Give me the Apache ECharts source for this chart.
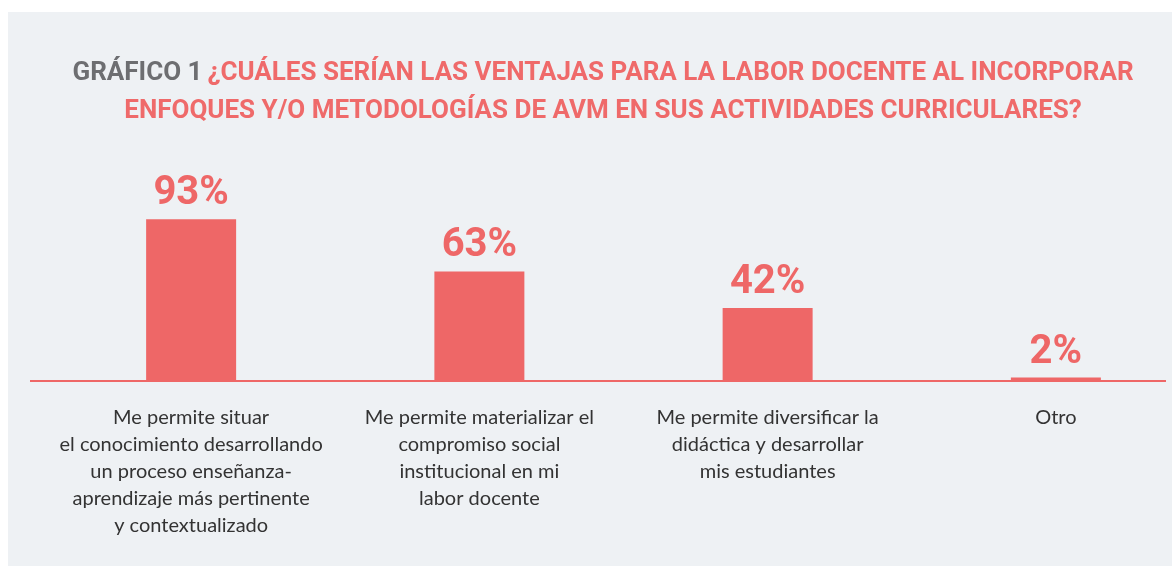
<!DOCTYPE html>
<html>
<head>
<meta charset="utf-8">
<script src="https://cdn.jsdelivr.net/npm/echarts@6/dist/echarts.min.js"></script>
<style>
html,body{margin:0;padding:0;background:#ffffff;}
#chart{width:1172px;height:566px;}
</style>
</head>
<body>
<div id="chart"></div>
<script>
const categories = [
  "Me permite situar\nel conocimiento desarrollando\nun proceso enseñanza-\naprendizaje más pertinente\ny contextualizado",
  "Me permite materializar el\ncompromiso social\ninstitucional en mi\nlabor docente",
  "Me permite diversificar la\ndidáctica y desarrollar\nmis estudiantes",
  "Otro"
];
const values = [93, 63, 42, 2];
const titlePrefix = "GRÁFICO 1";
const titleLine1 = "¿CUÁLES SERÍAN LAS VENTAJAS PARA LA LABOR DOCENTE AL INCORPORAR";
const titleLine2 = "ENFOQUES Y/O METODOLOGÍAS DE AVM EN SUS ACTIVIDADES CURRICULARES?";

const SALMON = "#ee6767";
const chart = echarts.init(document.getElementById('chart'), null, {renderer: 'canvas'});
const titleFont = "Roboto";
const option = {
  backgroundColor: '#ffffff',
  animation: false,
  title: {
    text: '{g|' + titlePrefix + '} {r|' + titleLine1 + '}\n{r|' + titleLine2 + '}',
    left: 598,
    top: 49,
    textAlign: 'center',
    textStyle: {
      lineHeight: 38,
      rich: {
        g: {fontFamily: titleFont, fontWeight: 'bold', fontSize: 26, color: '#6d6e71', lineHeight: 38},
        r: {fontFamily: titleFont, fontWeight: 'bold', fontSize: 26, color: '#ef6a6a', lineHeight: 38}
      }
    }
  },
  graphic: [
    {type: 'rect', z: -10, silent: true, shape: {x: 8, y: 12, width: 1164, height: 554}, style: {fill: '#eef1f4'}}
  ],
  grid: {left: 47, width: 1153, top: 207, height: 174, outerBoundsMode: 'none', containLabel: false},
  xAxis: {
    type: 'category',
    data: categories,
    axisLine: {show: false},
    axisTick: {show: false},
    axisLabel: {
      interval: 0,
      margin: 23,
      fontFamily: 'Lato',
      fontSize: 20,
      lineHeight: 27,
      color: '#333333',
      align: 'center'
    }
  },
  yAxis: {
    type: 'value', min: 0, max: 100,
    show: false,
    splitLine: {show: false}
  },
  series: [{
    type: 'bar',
    data: values,
    barWidth: 90,
    itemStyle: {color: SALMON},
    label: {
      show: true,
      position: 'top',
      distance: 5,
      formatter: '{c}%',
      fontFamily: 'Roboto',
      fontWeight: 'bold',
      fontSize: 40,
      color: SALMON
    }
  }]
};
chart.setOption(option);
const y0 = chart.convertToPixel({yAxisIndex: 0}, 0);
chart.setOption({graphic: [
  {type: 'rect', z: -10, silent: true, shape: {x: 8, y: 12, width: 1164, height: 554}, style: {fill: '#eef1f4'}},
  {type: 'line', z: -5, silent: true, shape: {x1: 30, y1: y0, x2: 1166, y2: y0}, style: {stroke: SALMON, lineWidth: 2}}
]});
</script>
</body>
</html>
